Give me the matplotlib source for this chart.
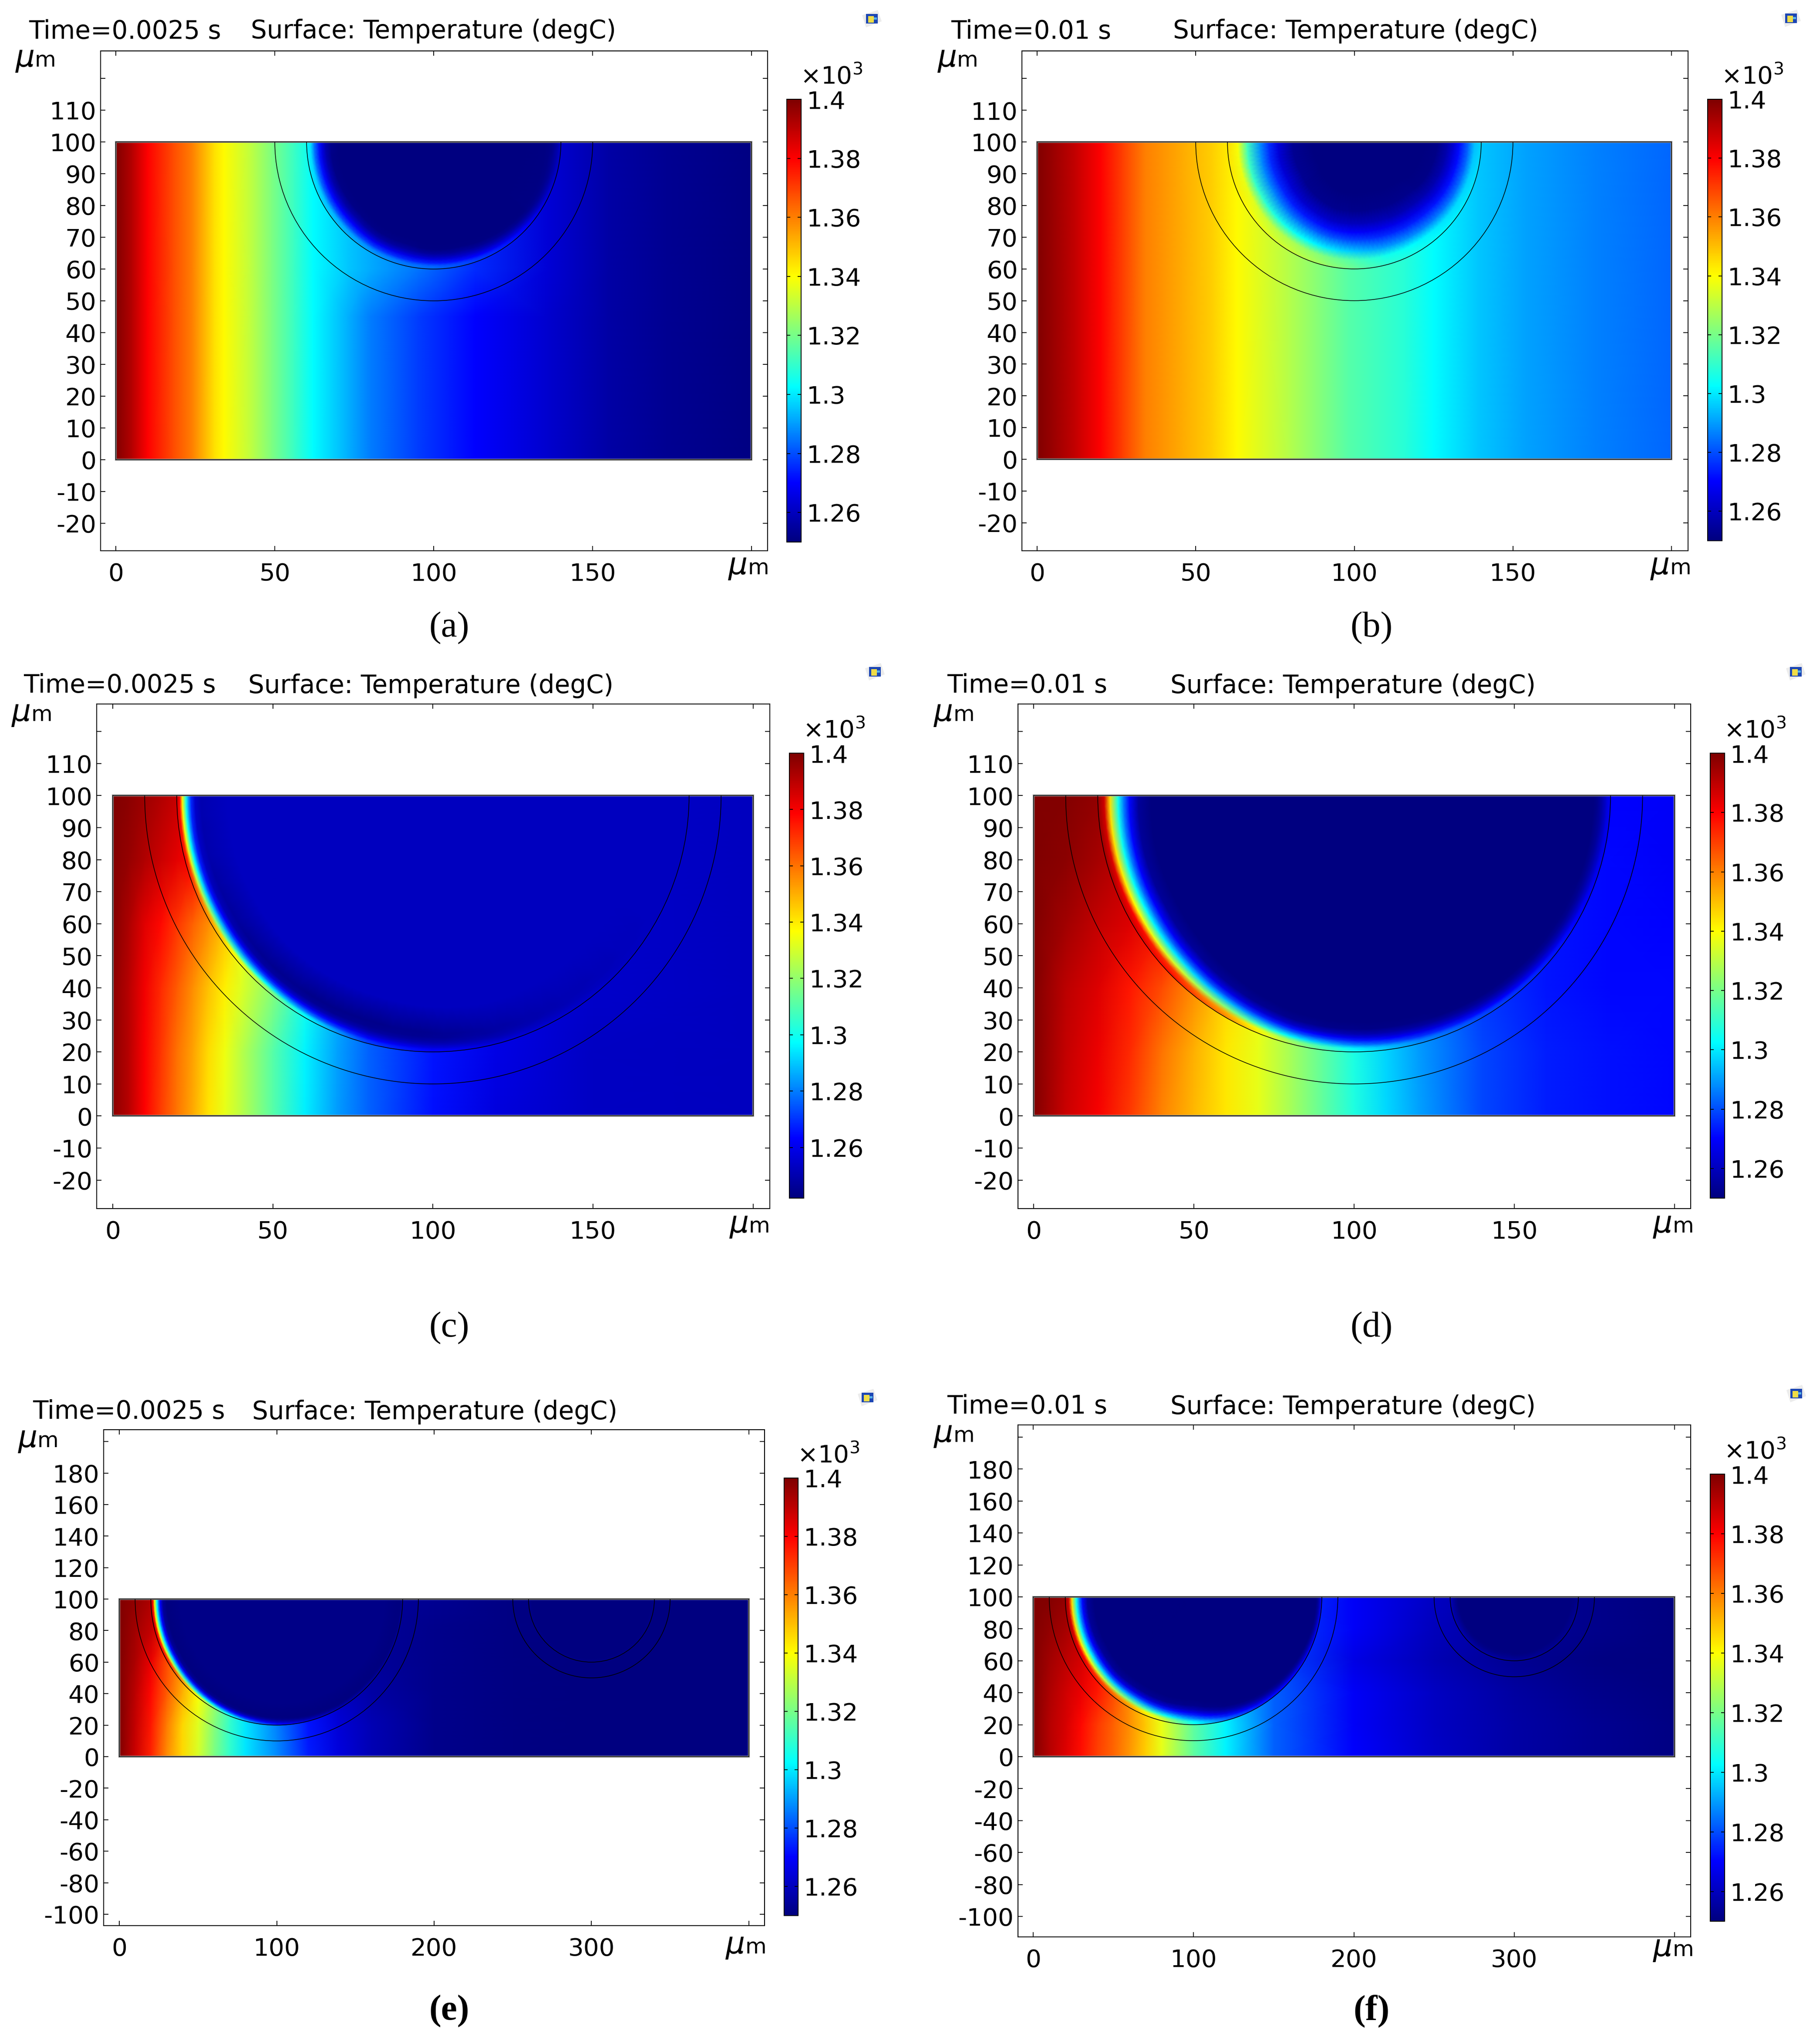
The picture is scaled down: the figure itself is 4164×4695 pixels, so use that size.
'''
Six COMSOL surface temperature panels, values read off the picture.
Temperatures are in units of 10^3 degC, as on the colorbars.
'''
import numpy as np
import matplotlib
matplotlib.use('Agg')
import matplotlib.pyplot as plt
from matplotlib.cm import ScalarMappable
from matplotlib.colors import LinearSegmentedColormap, Normalize
from matplotlib.patches import Arc, Polygon, Rectangle
from matplotlib.transforms import IdentityTransform

W_PX = 4164
H_PX = 4695

#Rainbow of the colorbars, with the colours sitting where the bars show them.
CMAP_LEVELS = [0, 0.133, 0.35, 0.6, 0.866, 1]
CMAP_COLOURS = [(0, 0, 0.5), (0, 0, 1), (0, 1, 1), (1, 1, 0), (1, 0, 0), (0.5, 0, 0)]
RAINBOW = LinearSegmentedColormap.from_list('comsol', list(zip(CMAP_LEVELS, CMAP_COLOURS)))

#The tables below were read assuming these colour levels, corrected when drawn.
READ_LEVELS = [0, 0.125, 0.375, 0.625, 0.875, 1]

#Angles round the bottom of a particle, where the rim values below were read.
RIM_ANGLES = [180, 195, 210, 225, 240, 255, 270, 285, 300, 315, 330, 345, 360]

#Shape of the cold front just inside a particle rim.
FRONT_DEPTH = [0, 0.12, 0.23, 0.38, 0.48, 0.59, 0.76, 1.0]
FRONT_LEVEL = [1, 0.94, 0.67, 0.40, 0.26, 0.135, 0.03, 0]

BAR_TICKS = [1.26, 1.28, 1.3, 1.32, 1.34, 1.36, 1.38, 1.4]
BAR_LABELS = ['1.26', '1.28', '1.3', '1.32', '1.34', '1.36', '1.38', '1.4']

#Panel a
A_X = [0, 5, 10, 18, 24, 31, 34, 42, 49, 56, 62, 73, 80, 95, 113, 136, 155, 173, 200]
A_Y = [0, 45, 60, 100]
A_ROW = [1.4, 1.392, 1.381, 1.37, 1.3625, 1.348, 1.344, 1.335, 1.325, 1.315, 1.306,
         1.295, 1.2875, 1.278, 1.269, 1.262, 1.256, 1.253, 1.251]
A_TOP = [1.4, 1.392, 1.381, 1.37, 1.3625, 1.348, 1.344, 1.335, 1.325, 1.315, 1.306,
         1.298, 1.294, 1.286, 1.275, 1.263, 1.256, 1.253, 1.251]
A_T = [A_ROW, A_ROW, A_TOP, A_TOP]
A_RIM = [1.306, 1.304, 1.3, 1.296, 1.292, 1.288, 1.285, 1.28, 1.275, 1.27, 1.264, 1.261, 1.259]
A_WIDTH = [10, 10, 10, 10, 9, 9, 8, 8, 7, 6, 5, 5, 5]
A_COLD = [1.25, 1.25, 1.25, 1.25, 1.25, 1.25, 1.25, 1.25, 1.25, 1.25, 1.251, 1.251, 1.251]

#Panel b
B_X = [0, 5, 12, 20, 27, 34, 46, 55, 63, 79, 98, 116, 125, 139, 154, 176, 200]
B_Y = [0, 100]
B_ROW = [1.4, 1.396, 1.39, 1.381, 1.372, 1.3625, 1.356, 1.351, 1.344, 1.333, 1.319,
         1.312, 1.306, 1.298, 1.293, 1.288, 1.284]
B_T = [B_ROW, B_ROW]
B_RIM = [1.349, 1.347, 1.345, 1.34, 1.336, 1.33, 1.322, 1.313, 1.31, 1.306, 1.304, 1.302, 1.3]
B_WIDTH = [27, 27, 27, 26, 25, 24, 24, 24, 23, 22, 20, 19, 18]
B_COLD = [1.25] * 13

#Panel c
C_X = [0, 5, 10, 15, 20, 25, 30, 35, 40, 50, 60, 70, 80, 100, 120, 150, 200]
C_Y = [0, 20, 40, 60, 80, 100]
C_T = [[1.398, 1.391, 1.38, 1.371, 1.362, 1.354, 1.345, 1.337, 1.33, 1.315, 1.299, 1.286, 1.277, 1.264, 1.257, 1.253, 1.252],
       [1.398, 1.391, 1.381, 1.372, 1.363, 1.355, 1.346, 1.338, 1.33, 1.315, 1.3, 1.287, 1.277, 1.265, 1.258, 1.253, 1.252],
       [1.398, 1.391, 1.382, 1.374, 1.366, 1.358, 1.35, 1.343, 1.336, 1.322, 1.305, 1.29, 1.278, 1.265, 1.258, 1.254, 1.252],
       [1.399, 1.393, 1.385, 1.379, 1.372, 1.365, 1.358, 1.35, 1.34, 1.32, 1.3, 1.285, 1.275, 1.265, 1.258, 1.254, 1.252],
       [1.399, 1.396, 1.392, 1.388, 1.384, 1.38, 1.37, 1.36, 1.35, 1.32, 1.3, 1.285, 1.275, 1.262, 1.257, 1.254, 1.252],
       [1.4, 1.398, 1.395, 1.392, 1.389, 1.385, 1.37, 1.36, 1.35, 1.32, 1.3, 1.285, 1.275, 1.262, 1.257, 1.254, 1.252]]
C_RIM = [1.389, 1.38, 1.358, 1.335, 1.303, 1.272, 1.262, 1.256, 1.254, 1.253, 1.252, 1.252, 1.252]
C_WIDTH = [7.5, 7.5, 7.5, 7, 7, 7, 6, 5, 5, 5, 5, 5, 5]
C_COLD = [1.25, 1.249, 1.247, 1.245, 1.244, 1.244, 1.245, 1.248, 1.25, 1.251, 1.252, 1.252, 1.252]

#Panel d
D_X = [0, 10, 20, 30, 40, 50, 60, 70, 80, 90, 100, 110, 120, 140, 160, 180, 200]
D_Y = [0, 20, 40, 60, 80, 100]
D_T = [[1.4, 1.389, 1.382, 1.373, 1.362, 1.354, 1.347, 1.34, 1.331, 1.321, 1.311, 1.301, 1.293, 1.279, 1.273, 1.271, 1.27],
       [1.4, 1.39, 1.384, 1.375, 1.364, 1.355, 1.347, 1.34, 1.331, 1.321, 1.31, 1.3, 1.292, 1.279, 1.273, 1.271, 1.27],
       [1.4, 1.391, 1.386, 1.378, 1.37, 1.36, 1.35, 1.342, 1.33, 1.32, 1.31, 1.3, 1.29, 1.277, 1.272, 1.27, 1.27],
       [1.4, 1.395, 1.39, 1.386, 1.38, 1.37, 1.36, 1.35, 1.34, 1.32, 1.31, 1.3, 1.29, 1.277, 1.272, 1.27, 1.269],
       [1.4, 1.398, 1.394, 1.39, 1.38, 1.37, 1.36, 1.35, 1.34, 1.32, 1.31, 1.3, 1.29, 1.277, 1.272, 1.27, 1.268],
       [1.4, 1.399, 1.397, 1.39, 1.38, 1.37, 1.36, 1.35, 1.34, 1.32, 1.31, 1.3, 1.29, 1.277, 1.272, 1.269, 1.268]]
D_RIM = [1.397, 1.395, 1.389, 1.38, 1.362, 1.333, 1.308, 1.29, 1.28, 1.275, 1.27, 1.267, 1.266]
D_WIDTH = [16.7, 16, 15.5, 14, 12, 10, 9.3, 9, 8, 7.5, 7, 7, 7]
D_COLD = [1.25] * 13

#Panel e
E_X = [0, 10, 20, 30, 40, 50, 60, 70, 80, 100, 120, 140, 160, 200, 250, 300, 400]
E_Y = [0, 20, 40, 60, 80, 100]
E_T = [[1.4, 1.389, 1.376, 1.361, 1.349, 1.338, 1.325, 1.314, 1.303, 1.289, 1.273, 1.264, 1.258, 1.252, 1.251, 1.25, 1.25],
       [1.4, 1.39, 1.378, 1.363, 1.35, 1.339, 1.326, 1.314, 1.303, 1.288, 1.272, 1.263, 1.258, 1.252, 1.251, 1.25, 1.25],
       [1.4, 1.391, 1.38, 1.368, 1.355, 1.343, 1.33, 1.316, 1.3, 1.285, 1.27, 1.26, 1.256, 1.252, 1.251, 1.25, 1.25],
       [1.4, 1.393, 1.384, 1.37, 1.36, 1.34, 1.32, 1.3, 1.28, 1.27, 1.26, 1.256, 1.254, 1.252, 1.251, 1.25, 1.25],
       [1.4, 1.395, 1.39, 1.38, 1.37, 1.34, 1.32, 1.3, 1.28, 1.27, 1.26, 1.256, 1.254, 1.252, 1.251, 1.25, 1.25],
       [1.4, 1.397, 1.393, 1.385, 1.37, 1.34, 1.32, 1.3, 1.28, 1.27, 1.26, 1.256, 1.254, 1.253, 1.251, 1.251, 1.25]]
E_RIM = [1.393, 1.39, 1.38, 1.358, 1.325, 1.295, 1.272, 1.262, 1.258, 1.256, 1.255, 1.254, 1.254]
E_WIDTH = [10, 10, 10, 9, 8, 7, 6, 5, 4, 4, 3, 3, 3]
E_COLD = [1.25] * 13
E2_RIM = [1.2515] * 13
E2_WIDTH = [5] * 13
E2_COLD = [1.25] * 13

#Panel f
F_X = [0, 10, 20, 30, 40, 50, 60, 70, 80, 100, 120, 150, 200, 250, 300, 350, 400]
F_Y = [0, 20, 40, 60, 80, 100]
F_T = [[1.4, 1.392, 1.386, 1.379, 1.372, 1.366, 1.359, 1.351, 1.34, 1.32, 1.305, 1.283, 1.269, 1.261, 1.256, 1.253, 1.251],
       [1.4, 1.392, 1.387, 1.38, 1.373, 1.367, 1.36, 1.352, 1.341, 1.32, 1.305, 1.283, 1.268, 1.26, 1.256, 1.253, 1.251],
       [1.4, 1.393, 1.388, 1.384, 1.378, 1.37, 1.36, 1.35, 1.34, 1.32, 1.3, 1.283, 1.268, 1.26, 1.255, 1.252, 1.25],
       [1.4, 1.395, 1.391, 1.387, 1.38, 1.37, 1.36, 1.35, 1.34, 1.32, 1.3, 1.28, 1.265, 1.258, 1.253, 1.251, 1.25],
       [1.4, 1.397, 1.394, 1.39, 1.38, 1.37, 1.36, 1.35, 1.34, 1.32, 1.3, 1.28, 1.268, 1.259, 1.254, 1.252, 1.25],
       [1.4, 1.399, 1.397, 1.39, 1.38, 1.37, 1.36, 1.35, 1.34, 1.32, 1.3, 1.28, 1.268, 1.26, 1.254, 1.252, 1.25]]
F_RIM = [1.397, 1.395, 1.388, 1.375, 1.36, 1.34, 1.31, 1.285, 1.274, 1.27, 1.268, 1.267, 1.266]
F_WIDTH = [18, 18, 18, 17, 17, 16, 16, 12, 9, 7, 6, 5, 5]
F_COLD = [1.25] * 13
F2_RIM = [1.258, 1.257, 1.257, 1.256, 1.255, 1.255, 1.254, 1.254, 1.253, 1.253, 1.253, 1.253, 1.252]
F2_WIDTH = [8] * 13
F2_COLD = [1.25] * 13

Y_TICKS_SMALL = list(range(-20, 130, 10))
Y_LABELS_SMALL = [str(v) for v in range(-20, 120, 10)] + ['']
X_TICKS_SMALL = [0, 50, 100, 150, 200]
X_LABELS_SMALL = ['0', '50', '100', '150', '']
Y_TICKS_WIDE = list(range(-100, 220, 20))
Y_LABELS_WIDE = [str(v) for v in range(-100, 200, 20)] + ['']
X_TICKS_WIDE = [0, 100, 200, 300, 400]
X_LABELS_WIDE = ['0', '100', '200', '300', '']

#Pixel layout of each panel.
PANELS = [
    dict(name='(a)', time='Time=0.0025 s', box=(231, 1763, 117, 1265), xlim=(-4.8, 205), ylim=(-28.6, 128.6),
         bar=(1807, 1840, 228, 1245), vmin=1.25, x=A_X, y=A_Y, t=A_T, xt=X_TICKS_SMALL, xl=X_LABELS_SMALL,
         yt=Y_TICKS_SMALL, yl=Y_LABELS_SMALL, width=200,
         discs=[(100, 40, A_RIM, A_WIDTH, A_COLD, 1.25)], rings=[(100, 40), (100, 50)],
         time_xy=(66, 72), surf_xy=(576, 72), yunit=(36, 153), xunit=(1673, 1319),
         icon=(2002, 43), tag=(1032, 1443)),
    dict(name='(b)', time='Time=0.01 s', box=(2347, 3877, 117, 1265), xlim=(-4.8, 205.2), ylim=(-28.8, 128.7),
         bar=(3922, 3955, 228, 1242), vmin=1.25, x=B_X, y=B_Y, t=B_T, xt=X_TICKS_SMALL, xl=X_LABELS_SMALL,
         yt=Y_TICKS_SMALL, yl=Y_LABELS_SMALL, width=200,
         discs=[(100, 40, B_RIM, B_WIDTH, B_COLD, 1.25)], rings=[(100, 40), (100, 50)],
         time_xy=(2184, 72), surf_xy=(2694, 72), yunit=(2154, 153), xunit=(3791, 1319),
         icon=(4113, 42), tag=(3150, 1443)),
    dict(name='(c)', time='Time=0.0025 s', box=(222, 1768, 1617, 2776), xlim=(-5, 205.2), ylim=(-28.9, 128.6),
         bar=(1813, 1846, 1730, 2752), vmin=1.242, x=C_X, y=C_Y, t=C_T, xt=X_TICKS_SMALL, xl=X_LABELS_SMALL,
         yt=Y_TICKS_SMALL, yl=Y_LABELS_SMALL, width=200,
         discs=[(100, 80, C_RIM, C_WIDTH, C_COLD, 1.252)], rings=[(100, 80), (100, 90)],
         time_xy=(54, 1575), surf_xy=(570, 1575), yunit=(27, 1656), xunit=(1676, 2831),
         icon=(2009, 1543), tag=(1032, 3051)),
    dict(name='(d)', time='Time=0.01 s', box=(2338, 3883, 1617, 2776), xlim=(-4.9, 205), ylim=(-28.9, 128.6),
         bar=(3928, 3961, 1730, 2752), vmin=1.25, x=D_X, y=D_Y, t=D_T, xt=X_TICKS_SMALL, xl=X_LABELS_SMALL,
         yt=Y_TICKS_SMALL, yl=Y_LABELS_SMALL, width=200,
         discs=[(100, 80, D_RIM, D_WIDTH, D_COLD, 1.25)], rings=[(100, 80), (100, 90)],
         time_xy=(2175, 1575), surf_xy=(2688, 1575), yunit=(2145, 1656), xunit=(3797, 2831),
         icon=(4124, 1543), tag=(3150, 3051)),
    dict(name='(e)', time='Time=0.0025 s', box=(238, 1756, 3284, 4423), xlim=(-10, 410), ylim=(-107.2, 207.5),
         bar=(1801, 1833, 3395, 4400), vmin=1.25, x=E_X, y=E_Y, t=E_T, xt=X_TICKS_WIDE, xl=X_LABELS_WIDE,
         yt=Y_TICKS_WIDE, yl=Y_LABELS_WIDE, width=400,
         discs=[(100, 80, E_RIM, E_WIDTH, E_COLD, 1.2515), (300, 40, E2_RIM, E2_WIDTH, E2_COLD, 1.25)],
         rings=[(100, 80), (100, 90), (300, 40), (300, 50)],
         time_xy=(75, 3243), surf_xy=(579, 3243), yunit=(42, 3324), xunit=(1667, 4487),
         icon=(1992, 3210), tag=(1032, 4620)),
    dict(name='(f)', time='Time=0.01 s', box=(2338, 3883, 3273, 4449), xlim=(-9.5, 410), ylim=(-112.8, 207.6),
         bar=(3928, 3961, 3386, 4413), vmin=1.25, x=F_X, y=F_Y, t=F_T, xt=X_TICKS_WIDE, xl=X_LABELS_WIDE,
         yt=Y_TICKS_WIDE, yl=Y_LABELS_WIDE, width=400,
         discs=[(100, 80, F_RIM, F_WIDTH, F_COLD, 1.25), (300, 40, F2_RIM, F2_WIDTH, F2_COLD, 1.25)],
         rings=[(100, 80), (100, 90), (300, 40), (300, 50)],
         time_xy=(2175, 3231), surf_xy=(2688, 3231), yunit=(2145, 3312), xunit=(3797, 4493),
         icon=(4125, 3201), tag=(3150, 4620)),
]


def px_box(left, right, top, bottom):
    return [left/W_PX, 1-bottom/H_PX, (right-left)/W_PX, (bottom-top)/H_PX]


def put_text(fig, xy, text, **opts):
    opts.setdefault('va', 'center')
    fig.text(xy[0]/W_PX, 1-xy[1]/H_PX, text, **opts)


def put_unit(fig, xy):
    #The stretched italic mu is bigger than the m next to it.
    put_text(fig, xy, '\u03bc', fontsize=50, style='italic', va='baseline')
    put_text(fig, (xy[0]+44, xy[1]), 'm', fontsize=36, va='baseline')


def put_icon(fig, ix, iy):
    #The little COMSOL badge at the corner of each screenshot.
    shapes = [([(-22, -8), (14, -20), (23, 6), (-13, 20)], '#ececec'),
              ([(-13, -11), (14, -11), (14, 11), (-13, 11)], '#1c46b4'),
              ([(-8, -6), (5, -6), (5, 9), (-8, 9)], '#f0dc46'),
              ([(5, -3), (12, -3), (12, 2), (5, 2)], '#58b4e6')]
    for verts, colour in shapes:
        pts = [(ix+dx, H_PX-iy-dy) for dx, dy in verts]
        fig.add_artist(Polygon(pts, closed=True, fc=colour, ec='none', transform=IdentityTransform()))


def corrected(temps, vmin):
    frac = (np.asarray(temps)-vmin)/(1.4-vmin)
    return vmin + np.interp(frac, READ_LEVELS, CMAP_LEVELS)*(1.4-vmin)


def draw_disc(ax, norm, cx, radius, rim, width, cold, core):
    #Polar mesh inside a particle, with the front read in from the rim.
    angles = np.linspace(180, 360, 73)
    rim_t = np.interp(angles, RIM_ANGLES, rim)[:, None]
    front_w = np.interp(angles, RIM_ANGLES, width)[:, None]
    cold_t = np.interp(angles, RIM_ANGLES, cold)[:, None]

    depth = front_w*np.array(FRONT_DEPTH)[None, :]
    temps = cold_t + (rim_t-cold_t)*np.array(FRONT_LEVEL)[None, :]

    inner = np.clip(front_w+8, 0, radius-1)
    rad = np.hstack([radius-depth, radius-inner, 0*inner])
    temps = np.hstack([temps, core+0*inner, core+0*inner])

    rads = np.radians(angles)[:, None]
    ax.pcolormesh(cx+rad*np.cos(rads), 100+rad*np.sin(rads), corrected(temps, norm.vmin),
                  shading='gouraud', cmap=RAINBOW, norm=norm, zorder=2)


def draw_panel(fig, p):
    ax = fig.add_axes(px_box(*p['box']))
    norm = Normalize(p['vmin'], 1.4)

    ax.pcolormesh(p['x'], p['y'], corrected(p['t'], p['vmin']), shading='gouraud',
                  cmap=RAINBOW, norm=norm, zorder=1)
    for disc in p['discs']:
        draw_disc(ax, norm, *disc)

    for cx, radius in p['rings']:
        ax.add_patch(Arc((cx, 100), 2*radius, 2*radius, theta1=180, theta2=360,
                         color='k', lw=1.1, zorder=3))
    ax.add_patch(Rectangle((0, 0), p['width'], 100, fill=False, ec='#999999', lw=3, zorder=2.5))
    ax.add_patch(Rectangle((0, 0), p['width'], 100, fill=False, ec='#111111', lw=1.2, zorder=3))

    ax.set_xlim(*p['xlim'])
    ax.set_ylim(*p['ylim'])
    ax.set_xticks(p['xt'])
    ax.set_xticklabels(p['xl'])
    ax.set_yticks(p['yt'])
    ax.set_yticklabels(p['yl'])
    ax.tick_params(axis='x', direction='in', top=True, length=8, width=1.3, labelsize=40.5, pad=19)
    ax.tick_params(axis='y', direction='in', right=True, length=8, width=1.3, labelsize=40.5, pad=7)
    for spine in ax.spines.values():
        spine.set_linewidth(1.5)

    cax = fig.add_axes(px_box(*p['bar']))
    cbar = fig.colorbar(ScalarMappable(norm, RAINBOW), cax=cax)
    cbar.set_ticks(BAR_TICKS, labels=BAR_LABELS)
    cbar.outline.set_linewidth(1.5)
    cax.tick_params(direction='in', left=True, right=True, labelleft=False, labelright=True,
                    length=6, width=1.3, labelsize=40.5, pad=9.5)

    put_text(fig, p['time_xy'], p['time'], fontsize=41.7)
    put_text(fig, p['surf_xy'], 'Surface: Temperature (degC)', fontsize=41.7)
    put_unit(fig, p['yunit'])
    put_unit(fig, p['xunit'])
    put_text(fig, (p['bar'][1]-2, p['bar'][2]-52), r'$\times 10^3$', fontsize=40.5)
    put_text(fig, p['tag'], p['name'], fontsize=60, ha='center', family='Liberation Serif',
             fontweight='bold' if p['name'] in ('(e)', '(f)') else 'normal')
    put_icon(fig, *p['icon'])


def main():
    plt.rcParams['mathtext.fontset'] = 'dejavusans'
    plt.rcParams['mathtext.default'] = 'regular'
    fig = plt.figure(figsize=(W_PX/100, H_PX/100), dpi=100)
    for p in PANELS:
        draw_panel(fig, p)
    fig.savefig('out.png', dpi=100)


if __name__ == '__main__':
    main()
